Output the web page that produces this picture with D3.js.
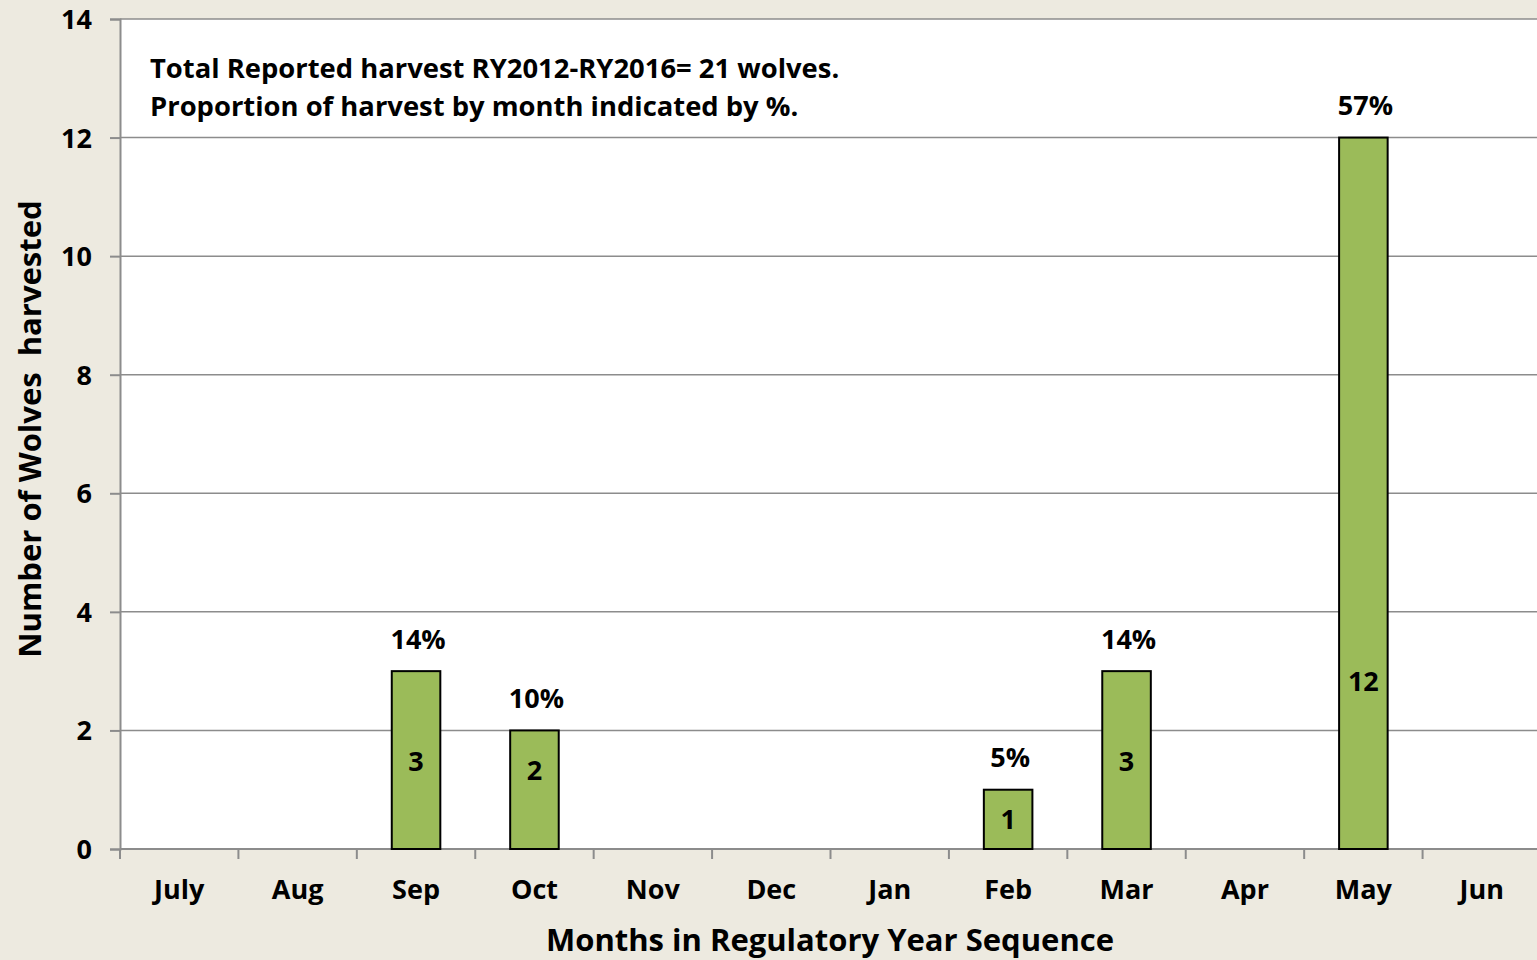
<!DOCTYPE html>
<html>
<head>
<meta charset="utf-8">
<script src="https://cdn.jsdelivr.net/npm/d3@7"></script>
<style>
  html, body { margin: 0; padding: 0; background: #EDEAE0; }
  svg { display: block; font-family: "Open Sans", Lato, sans-serif; font-weight: bold; }
  .grid line { stroke: #8c8c8c; stroke-width: 1.5; }
  .axis path, .axis line { stroke: #8c8c8c; stroke-width: 2; }
  .axis text { fill: #000; font-size: 27px; font-weight: bold; }
</style>
</head>
<body>
<svg width="1537" height="960"></svg>
<script>
const months = ['July', 'Aug', 'Sep', 'Oct', 'Nov', 'Dec', 'Jan', 'Feb', 'Mar', 'Apr', 'May', 'Jun']
const wolves = [0, 0, 3, 2, 0, 0, 0, 1, 3, 0, 12, 0]
const percents = ['', '', '14%', '10%', '', '', '', '5%', '14%', '', '57%', '']
// where the count sits inside each bar, in wolves
const countLabelAt = [0, 0, 1.48, 1.33, 0, 0, 0, 0.5, 1.48, 0, 2.83, 0]
const yTicks = [0, 2, 4, 6, 8, 10, 12, 14]
const notes = [
  'Total Reported harvest RY2012-RY2016= 21 wolves.',
  'Proportion of harvest by month indicated by %.'
]

const svg = d3.select('svg')
const plotLeft = 120, plotTop = 19, plotBottom = 849, plotRight = 1541

const x = d3.scaleBand().domain(months).range([plotLeft, plotRight]).paddingInner(0.59).paddingOuter(0.295)
const xTickPos = d3.scaleBand().domain(months).range([plotLeft, plotRight])
const y = d3.scaleLinear().domain([0, 14]).range([plotBottom, plotTop])

svg.append('rect')
  .attr('x', plotLeft).attr('y', plotTop)
  .attr('width', plotRight - plotLeft).attr('height', plotBottom - plotTop)
  .attr('fill', '#fff')

svg.append('g').attr('class', 'grid')
  .selectAll('line').data(yTicks.slice(1))
  .join('line')
  .attr('x1', plotLeft).attr('x2', plotRight)
  .attr('y1', d => y(d)).attr('y2', d => y(d))

// y axis
const yAxis = svg.append('g').attr('class', 'axis')
  .attr('transform', `translate(${plotLeft},0)`)
  .call(d3.axisLeft(y).tickValues(yTicks).tickSize(10).tickPadding(18))
yAxis.selectAll('text').attr('dy', '0.35em')
yAxis.attr('font-family', null).attr('font-size', null)

// x axis: ticks at band boundaries
const xg = svg.append('g').attr('class', 'axis')
xg.append('line')
  .attr('x1', plotLeft).attr('x2', plotRight).attr('y1', plotBottom).attr('y2', plotBottom)
xg.selectAll('.tk').data(months)
  .join('line').attr('class', 'tk')
  .attr('x1', d => xTickPos(d)).attr('x2', d => xTickPos(d))
  .attr('y1', plotBottom).attr('y2', plotBottom + 10)
xg.selectAll('text').data(months)
  .join('text')
  .attr('x', d => xTickPos(d) + xTickPos.bandwidth() / 2)
  .attr('y', 890).attr('dy', '0.35em')
  .attr('text-anchor', 'middle')
  .text(d => d)

// bars
const data = months.map((m, i) => ({ m, v: wolves[i], p: percents[i], c: countLabelAt[i] }))
const withBars = data.filter(d => d.v > 0)

svg.append('g').selectAll('rect').data(withBars)
  .join('rect')
  .attr('x', d => x(d.m)).attr('width', x.bandwidth())
  .attr('y', d => y(d.v)).attr('height', d => y(0) - y(d.v))
  .attr('fill', '#9BBB59').attr('stroke', '#000').attr('stroke-width', 2)

svg.append('g').selectAll('text').data(withBars)
  .join('text')
  .attr('x', d => x(d.m) + x.bandwidth() / 2)
  .attr('y', d => y(d.c)).attr('dy', '0.35em')
  .attr('text-anchor', 'middle')
  .attr('font-size', 27)
  .text(d => d.v)

svg.append('g').selectAll('text').data(withBars)
  .join('text')
  .attr('x', d => x(d.m) + x.bandwidth() / 2 + 2)
  .attr('y', d => y(d.v) - 32).attr('dy', '0.35em')
  .attr('text-anchor', 'middle')
  .attr('font-size', 27)
  .text(d => d.p)

// notes
svg.append('g').selectAll('text').data(notes)
  .join('text')
  .attr('x', 150).attr('y', (d, i) => 68 + i * 38).attr('dy', '0.35em')
  .attr('font-size', 27.4)
  .text(d => d)

// axis titles
svg.append('text')
  .attr('x', 830).attr('y', 940).attr('dy', '0.35em')
  .attr('text-anchor', 'middle').attr('font-size', 31)
  .text('Months in Regulatory Year Sequence')

svg.append('text')
  .attr('transform', 'translate(30,429) rotate(-90)')
  .attr('dy', '0.35em')
  .attr('text-anchor', 'middle').attr('font-size', 31)
  .style('white-space', 'pre')
  .text('Number of Wolves  harvested')
</script>
</body>
</html>
